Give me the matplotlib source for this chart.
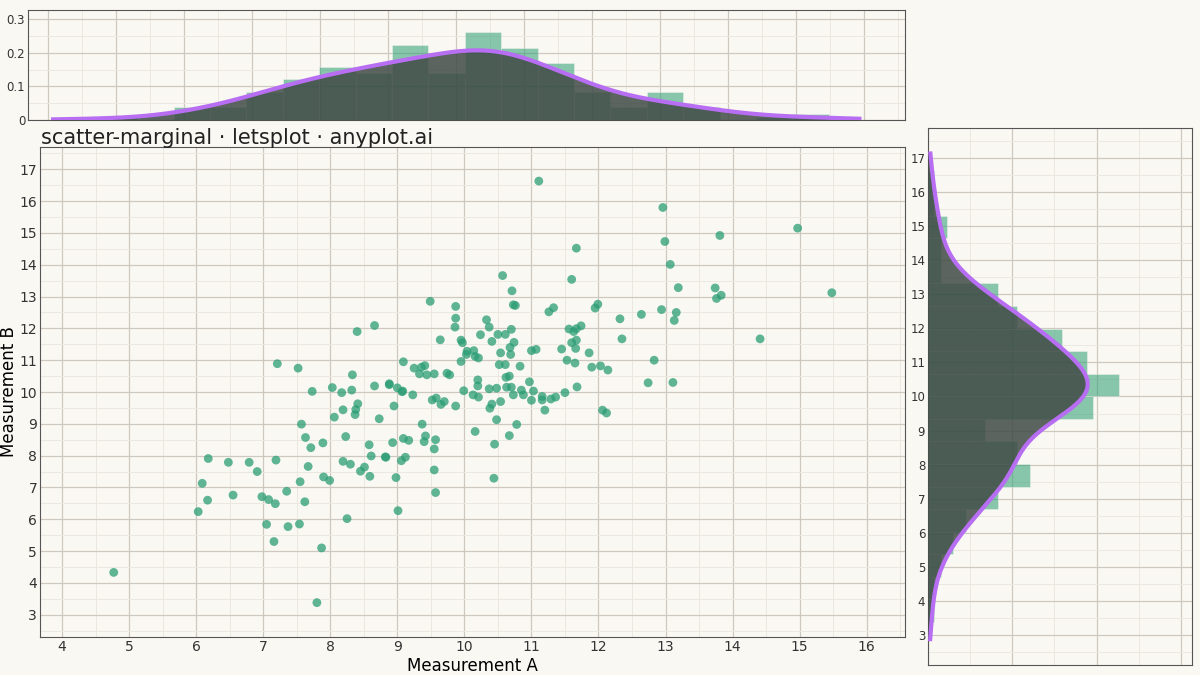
import numpy as np
import matplotlib.pyplot as plt
from matplotlib.ticker import MultipleLocator

# values
meas_a = [4.77, 7.80, 6.03, 6.09, 6.17, 6.18, 6.48, 6.55, 6.79, 6.91, 6.98, 7.08, 7.18,
          7.05, 7.16, 7.37, 7.54, 7.35, 7.62, 7.55, 7.19, 7.21, 7.52, 7.73, 7.57, 7.63,
          7.71, 7.67, 7.89, 7.90, 7.99, 7.87, 8.03, 8.06, 8.17, 8.19, 8.23, 8.19, 8.30,
          8.25, 8.32, 8.33, 8.40, 8.41, 8.38, 8.37, 8.66, 8.66, 8.73, 8.58, 8.61, 8.45,
          8.51, 8.59, 8.82, 8.83, 8.88, 8.88, 8.95, 8.93, 8.98, 9.01, 9.00, 9.08, 9.07,
          9.09, 9.09, 9.17, 9.06, 9.12, 9.23, 9.25, 9.33, 9.36, 9.41, 9.44, 9.55, 9.49,
          9.37, 9.42, 9.40, 9.57, 9.55, 9.55, 9.57, 9.52, 9.58, 9.65, 9.70, 9.74, 9.78,
          9.87, 9.87, 9.87, 9.86, 9.64, 9.95, 9.97, 10.04, 10.03, 10.14, 10.16, 10.21,
          9.95, 9.99, 10.13, 10.20, 10.20, 10.16, 10.21,
          11.11, 12.96, 12.99, 13.07, 13.19, 13.81, 14.97, 15.48, 14.41, 13.74, 13.76,
          13.83, 12.94, 13.16, 13.13, 12.64, 12.32, 12.35, 12.83, 12.74, 13.11, 11.67,
          11.60, 10.57, 10.71, 10.73, 10.76, 10.33, 10.37, 10.24, 10.41, 10.50, 10.61,
          10.70, 10.74, 10.68, 10.69, 10.54, 10.52, 10.61, 10.83, 10.62, 10.67, 10.37,
          10.48, 10.63, 10.70, 10.73, 10.88, 10.85, 10.97, 11.00, 11.07, 11.03, 11.16,
          11.00, 11.16, 11.20, 11.29, 11.36, 11.50, 11.68, 11.26, 11.33, 11.45, 11.53,
          11.65, 11.60, 11.66, 11.67, 11.56, 11.63, 11.67, 11.74, 11.86, 11.90, 12.03,
          12.14, 11.95, 11.99, 12.06, 12.12, 10.48, 10.78, 10.38, 10.41, 10.54, 10.45,
          10.67, 10.44]
meas_b = [4.33, 3.38, 6.24, 7.13, 6.60, 7.91, 7.79, 6.76, 7.79, 7.50, 6.71, 6.62, 6.49,
          5.84, 5.30, 5.77, 5.85, 6.88, 6.55, 7.18, 7.86, 10.89, 10.75, 10.02, 8.99, 8.57,
          8.25, 7.66, 8.40, 7.33, 7.22, 5.10, 10.14, 9.21, 9.98, 9.44, 8.60, 7.82, 7.73,
          6.02, 10.06, 10.54, 11.90, 9.63, 9.45, 9.29, 12.09, 10.19, 9.16, 8.34, 7.99, 7.51,
          7.64, 7.35, 7.96, 7.95, 10.26, 10.23, 9.56, 8.41, 7.31, 6.27, 10.13, 10.03, 10.01,
          10.95, 8.54, 8.48, 7.84, 7.95, 9.91, 10.75, 10.57, 10.78, 10.83, 10.54, 10.57, 12.85,
          8.99, 8.62, 8.44, 8.50, 8.21, 7.55, 6.84, 9.75, 9.81, 9.61, 9.70, 10.59, 10.54,
          9.56, 12.69, 12.32, 12.04, 11.64, 11.63, 11.55, 11.28, 11.18, 11.30, 11.12, 11.07,
          10.96, 10.04, 9.91, 10.38, 10.19, 8.76, 9.84,
          16.63, 15.80, 14.73, 14.01, 13.28, 14.92, 15.15, 13.12, 11.67, 13.27, 12.94,
          13.04, 12.59, 12.50, 12.25, 12.44, 12.30, 11.67, 11.00, 10.29, 10.30, 14.52,
          13.54, 13.66, 13.18, 12.74, 12.72, 12.27, 12.04, 11.80, 11.59, 11.81, 11.81,
          11.97, 11.56, 11.40, 11.18, 11.23, 10.86, 10.86, 10.81, 10.46, 10.50, 10.10,
          10.12, 10.15, 10.15, 9.91, 9.91, 10.06, 10.32, 11.30, 11.34, 10.03, 9.86,
          9.74, 9.75, 9.43, 9.78, 9.84, 9.98, 10.16, 12.52, 12.65, 11.35, 11.00,
          10.91, 11.55, 11.37, 11.63, 11.98, 11.90, 11.99, 12.08, 11.23, 10.78, 10.82,
          10.69, 12.64, 12.76, 9.43, 9.34, 9.13, 8.98, 9.49, 9.62, 9.70, 8.36,
          8.63, 7.29]

a = np.array(meas_a)
b = np.array(meas_b)

BG = '#faf8f2'
GREEN = '#2a9d74'
PURPLE = '#b86ef2'
FILLC = '#3f4a45'


def kde(v, grid):
    bw = 1.06 * v.std(ddof=1) * len(v) ** (-1 / 5)
    z = (grid[:, None] - v[None, :]) / bw
    return np.exp(-0.5 * z ** 2).sum(axis=1) / (len(v) * bw * np.sqrt(2 * np.pi))


def style(ax):
    ax.set_facecolor(BG)
    ax.minorticks_on()
    ax.grid(True, which='major', color='#cdc9c0', lw=0.9)
    ax.grid(True, which='minor', color='#ebe8e0', lw=0.7)
    ax.set_axisbelow(True)
    for s in ax.spines.values():
        s.set_color('#555555')
    ax.tick_params(which='both', length=0, labelsize=8.5, colors='#333333', pad=2)


fig = plt.figure(figsize=(12, 6.75), dpi=100)
fig.patch.set_facecolor(BG)

ax = fig.add_axes([0.0333, 0.0563, 0.7208, 0.7259])
top = fig.add_axes([0.0233, 0.8222, 0.7308, 0.163])
right = fig.add_axes([0.7733, 0.0148, 0.22, 0.7956])
for x_ in (ax, top, right):
    style(x_)

ax.scatter(a, b, s=40, color=GREEN, alpha=0.75, edgecolors='none', zorder=3)
ax.set_xlim(3.67, 16.57)
ax.set_ylim(2.3, 17.7)
ax.xaxis.set_major_locator(MultipleLocator(1))
ax.yaxis.set_major_locator(MultipleLocator(1))
ax.xaxis.set_minor_locator(MultipleLocator(0.5))
ax.yaxis.set_minor_locator(MultipleLocator(0.5))
ax.tick_params(labelsize=10)
ax.set_xlabel('Measurement A', fontsize=12, labelpad=2)
ax.set_ylabel('Measurement B', fontsize=12, labelpad=1)
fig.text(0.034, 0.787, 'scatter-marginal · letsplot · anyplot.ai', fontsize=15,
         color='#222222')

# top marginal
top.hist(a, bins=20, density=True, color=GREEN, alpha=0.55, edgecolor=BG, lw=0.5,
         zorder=2)
ga = np.linspace(a.min() - 0.7, a.max() + 0.45, 300)
da = kde(a, ga)
top.fill_between(ga, 0, da, color=FILLC, alpha=0.85, lw=0, zorder=3)
top.plot(ga, da, color=PURPLE, lw=3, zorder=4)
top.set_xlim(3.7, 16.6)
top.set_ylim(0, 0.327)
top.xaxis.set_major_locator(MultipleLocator(1))
top.xaxis.set_minor_locator(MultipleLocator(0.5))
top.yaxis.set_minor_locator(MultipleLocator(0.05))
top.set_yticks([0, 0.1, 0.2, 0.3], ['0', '0.1', '0.2', '0.3'])
top.tick_params(axis='x', labelbottom=False)

# right marginal
right.hist(b, bins=20, density=True, orientation='horizontal', color=GREEN,
           alpha=0.55, edgecolor=BG, lw=0.5, zorder=2)
gb = np.linspace(b.min() - 0.5, b.max() + 0.5, 300)
db = kde(b, gb)
right.fill_betweenx(gb, 0, db, color=FILLC, alpha=0.85, lw=0, zorder=3)
right.plot(db, gb, color=PURPLE, lw=3, zorder=4)
right.set_ylim(2.12, 17.88)
right.set_xlim(0, 0.313)
right.yaxis.set_major_locator(MultipleLocator(1))
right.yaxis.set_minor_locator(MultipleLocator(0.5))
right.xaxis.set_major_locator(MultipleLocator(0.1))
right.xaxis.set_minor_locator(MultipleLocator(0.05))
right.tick_params(axis='x', labelbottom=False)

fig.savefig('out.png', dpi=100, facecolor=BG)
